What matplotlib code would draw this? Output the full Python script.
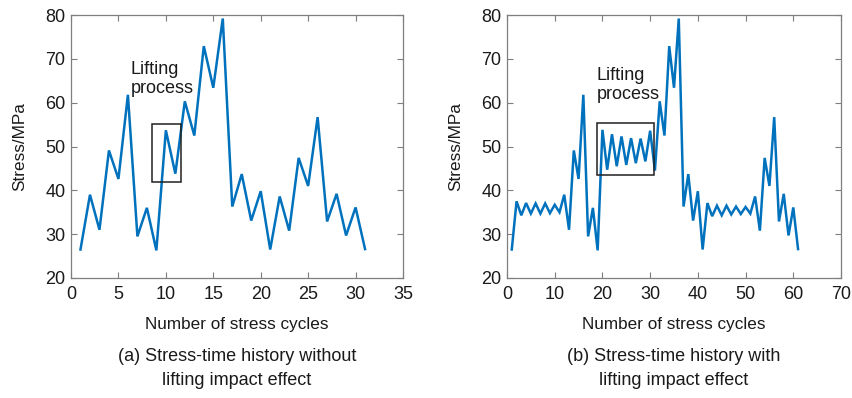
import numpy as np
import matplotlib
matplotlib.use( "Agg" )
import matplotlib.pyplot  as plt
import matplotlib.patches as patches


# ========================================================= #
# ===  data                                             === #
# ========================================================= #

# -- (a) without lifting impact effect  ( cycles 1..31 ) -- #
cycles_a = list( range( 1, 32 ) )
stress_a = [ 26.5, 39.0, 31.0, 49.1, 42.6, 61.8, 29.5, 36.0, 26.3, 53.7,
             43.8, 60.3, 52.5, 72.9, 63.4, 79.2, 36.3, 43.7, 33.1, 39.8,
             26.5, 38.6, 30.8, 47.4, 41.0, 56.7, 32.9, 39.2, 29.7, 36.1,
             26.6 ]

# -- (b) with lifting impact effect     ( cycles 1..61 ) -- #
cycles_b = list( range( 1, 62 ) )
stress_b = [ 26.5,
             37.5, 34.3, 37.1, 34.7, 37.0, 34.7, 37.0, 34.8, 36.7, 35.0,
             39.0, 31.0, 49.1, 42.6, 61.8, 29.5, 36.0, 26.3,
             53.8, 44.7, 52.8, 45.5, 52.3, 45.8, 51.9, 46.2, 51.8, 46.6, 53.6,
             44.5, 60.3, 52.5, 72.9, 63.4, 79.2, 36.3, 43.7, 33.1, 39.8, 26.5,
             37.1, 34.1, 36.5, 34.3, 36.5, 34.5, 36.3, 34.6, 36.2, 34.7,
             38.6, 30.8, 47.4, 41.0, 56.7, 32.9, 39.2, 29.7, 36.1, 26.6 ]

xticks_a = [ 0, 5, 10, 15, 20, 25, 30, 35 ]
xticks_b = [ 0, 10, 20, 30, 40, 50, 60, 70 ]
yticks   = [ 20, 30, 40, 50, 60, 70, 80 ]

# -- lifting box : ( x0, x1, y0, y1 ) , note position ( x, y ) -- #
box_a  = ( 8.5, 11.6, 42.0, 55.2 )
box_b  = ( 18.9, 30.9, 43.4, 55.3 )
note_a = ( 6.3, 69.6 )
note_b = ( 18.8, 68.2 )

captions = [ "(a) Stress-time history without\nlifting impact effect",
             "(b) Stress-time history with\nlifting impact effect" ]

# ========================================================= #
# ===  settings                                         === #
# ========================================================= #
plt.rcParams["font.family"] = [ "Liberation Sans", "DejaVu Sans" ]
line_color  = "#0072BD"
spine_color = "#7f7f7f"
text_color  = "#1a1a1a"
W, H        = 853, 398

fig = plt.figure( figsize=( W/100, H/100 ), dpi=100 )
fig.patch.set_facecolor( "white" )

positions = [ [ 71/W, 1-278/H, 332/W, 263/H ],
              [ 507/W, 1-278/H, 334/W, 263/H ] ]

panels = [ ( cycles_a, stress_a, xticks_a, box_a, note_a, captions[0] ),
           ( cycles_b, stress_b, xticks_b, box_b, note_b, captions[1] ) ]

# ========================================================= #
# ===  draw                                             === #
# ========================================================= #
for pos, ( xs, ys, xt, box, note, cap ) in zip( positions, panels ):
    ax = fig.add_axes( pos )
    ax.plot( xs, ys, color=line_color, lw=1.8, solid_joinstyle="miter" )

    # --- box and note --- #
    x0, x1, y0, y1 = box
    ax.add_patch( patches.Rectangle( ( x0, y0 ), x1-x0, y1-y0, fill=False,
                                     edgecolor="#202020", lw=1.1, zorder=3 ) )
    ax.text( note[0], note[1], "Lifting\nprocess", ha="left", va="top",
             fontsize=13, color=text_color, linespacing=1.15 )

    # --- axes --- #
    ax.set_xlim( xt[0], xt[-1] )
    ax.set_ylim( yticks[0], yticks[-1] )
    ax.set_xticks( xt )
    ax.set_yticks( yticks )
    ax.tick_params( direction="in", top=True, right=True, length=4,
                    width=0.8, color=spine_color, labelsize=13,
                    labelcolor=text_color, pad=4 )
    ax.tick_params( axis="x", pad=6 )
    for sp in ax.spines.values():
        sp.set_color( spine_color )
        sp.set_linewidth( 0.9 )

    ax.set_ylabel( "Stress/MPa", fontsize=12.3, color=text_color, labelpad=13 )
    ax.set_xlabel( "Number of stress cycles", fontsize=12.3, color=text_color,
                   labelpad=10 )

    # --- caption --- #
    ax.text( 0.5, -0.265, cap, transform=ax.transAxes, ha="center", va="top",
             fontsize=13, color=text_color, linespacing=1.55 )

fig.savefig( "out.png", dpi=100 )
